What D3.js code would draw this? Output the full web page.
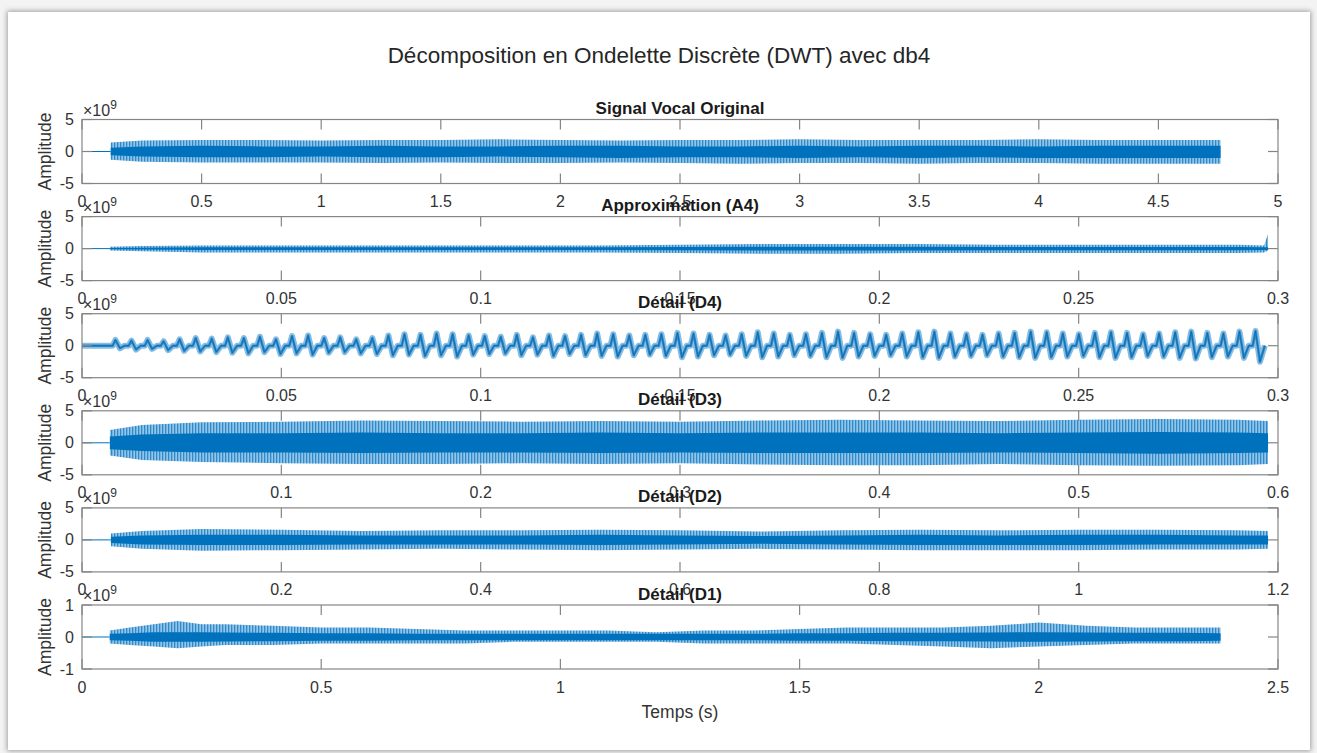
<!DOCTYPE html>
<html>
<head>
<meta charset="utf-8">
<title>DWT db4</title>
<script src="https://cdnjs.cloudflare.com/ajax/libs/d3/7.8.5/d3.min.js"></script>
<style>
body { margin: 0; background: #f3f3f3; overflow: hidden; }
#card { position: absolute; left: 8px; top: 12px; width: 1302px; height: 738px; background: #fff;
        box-shadow: 0 0 5px 1px rgba(0,0,0,0.35); }
#chart { position: absolute; left: 0; top: 0; }
text { font-family: "Liberation Sans", Arial, sans-serif; fill: #333; }
</style>
</head>
<body>
<div id="card"></div>
<div id="chart"></div>
<script>
// ---- data (amplitudes in units of 1e9) ----
var s1Time    = [0.12, 0.25, 0.5, 0.75, 1.0, 1.25, 1.5, 1.75, 2.0, 2.25, 2.5, 2.75, 3.0, 3.25, 3.5, 3.75, 4.0, 4.25, 4.5, 4.76];
var s1OuterHi = [1.4, 1.7, 1.8, 1.8, 1.7, 1.8, 1.8, 1.9, 1.8, 1.7, 1.8, 1.8, 1.9, 1.8, 1.8, 1.8, 1.9, 1.8, 1.8, 1.8];
var s1OuterLo = [-1.3, -1.6, -1.7, -1.7, -1.7, -1.8, -1.7, -1.8, -1.8, -1.7, -1.8, -1.9, -1.8, -1.8, -1.9, -1.8, -1.8, -1.9, -1.9, -1.9];
var s1CoreHi  = [0.6, 0.8, 0.9, 0.8, 0.8, 0.9, 0.8, 0.8, 0.9, 0.9, 0.8, 0.8, 0.9, 0.8, 0.9, 0.9, 0.8, 0.9, 0.9, 0.9];
var s1CoreLo  = [-0.6, -0.8, -0.9, -0.9, -0.8, -0.9, -0.9, -0.8, -0.9, -1.0, -0.9, -0.9, -1.0, -0.9, -1.0, -0.9, -1.0, -1.0, -1.0, -1.0];

var a4Time    = [0.007, 0.015, 0.03, 0.05, 0.07, 0.09, 0.11, 0.13, 0.15, 0.17, 0.19, 0.21, 0.23, 0.25, 0.27, 0.29, 0.2965, 0.2975];
var a4OuterHi = [0.3, 0.4, 0.5, 0.5, 0.5, 0.5, 0.5, 0.5, 0.6, 0.7, 0.7, 0.7, 0.6, 0.6, 0.6, 0.6, 0.5, 2.3];
var a4OuterLo = [-0.3, -0.4, -0.6, -0.6, -0.6, -0.6, -0.6, -0.6, -0.7, -0.8, -0.8, -0.7, -0.7, -0.7, -0.7, -0.7, -0.6, -0.3];
var a4CoreHi  = [0.1, 0.15, 0.2, 0.2, 0.2, 0.2, 0.2, 0.2, 0.25, 0.3, 0.3, 0.3, 0.25, 0.25, 0.25, 0.25, 0.2, 0.2];
var a4CoreLo  = [-0.1, -0.15, -0.2, -0.2, -0.2, -0.2, -0.2, -0.2, -0.25, -0.3, -0.3, -0.3, -0.25, -0.25, -0.25, -0.25, -0.2, -0.2];

// D4: one peak and one trough per glottal pulse, 0.0075 s -> 0.2975 s
var d4Span   = [0.0075, 0.2975];
var d4Peak   = [0.9, 0.8, 0.9, 0.7, 1.0, 1.2, 1.1, 1.3, 1.2, 1.4, 1.0, 1.5, 1.6, 1.2, 1.3, 1.0, 1.2, 1.6, 1.8, 1.7,
                1.9, 1.8, 1.6, 1.5, 1.4, 1.7, 1.3, 1.6, 1.5, 1.7, 1.9, 1.8, 1.6, 1.7, 1.8, 2.0, 1.9, 1.7, 1.6, 1.8,
                2.1, 1.9, 1.7, 1.8, 2.0, 2.2, 2.0, 1.8, 1.7, 1.9, 2.1, 2.2, 1.9, 1.8, 1.7, 1.9, 2.0, 2.2, 2.1, 1.9,
                1.8, 2.0, 2.1, 2.0, 1.8, 1.9, 2.1, 2.2, 2.0, 1.9, 2.2, 2.3];
var d4Trough = [-0.4, -0.6, -0.5, -0.7, -0.8, -0.9, -1.0, -1.1, -1.2, -1.0, -1.3, -1.2, -1.4, -1.1, -1.0, -1.2, -1.3, -1.5, -1.4, -1.6,
                -1.5, -1.7, -1.4, -1.3, -1.2, -1.5, -1.4, -1.6, -1.3, -1.5, -1.6, -1.7, -1.5, -1.4, -1.6, -1.8, -1.7, -1.5, -1.4, -1.6,
                -1.8, -1.7, -1.5, -1.6, -1.8, -1.9, -1.7, -1.6, -1.5, -1.7, -1.8, -1.9, -1.7, -1.6, -1.5, -1.7, -1.8, -1.9, -1.8, -1.7,
                -1.6, -1.8, -1.9, -1.8, -1.6, -1.7, -1.9, -2.0, -1.8, -1.7, -1.9, -2.5];

var d3Time    = [0.014, 0.03, 0.06, 0.1, 0.14, 0.18, 0.22, 0.26, 0.3, 0.34, 0.38, 0.42, 0.46, 0.5, 0.54, 0.58, 0.595];
var d3OuterHi = [2.0, 2.8, 3.2, 3.3, 3.5, 3.4, 3.3, 3.4, 3.3, 3.5, 3.6, 3.5, 3.4, 3.6, 3.7, 3.6, 3.4];
var d3OuterLo = [-2.0, -2.7, -3.0, -3.2, -3.3, -3.3, -3.2, -3.3, -3.2, -3.4, -3.5, -3.5, -3.3, -3.5, -3.6, -3.5, -3.3];
var d3CoreHi  = [1.0, 1.3, 1.5, 1.5, 1.6, 1.5, 1.5, 1.6, 1.5, 1.6, 1.6, 1.6, 1.5, 1.6, 1.7, 1.6, 1.5];
var d3CoreLo  = [-1.0, -1.3, -1.5, -1.5, -1.6, -1.5, -1.5, -1.6, -1.5, -1.6, -1.6, -1.6, -1.5, -1.6, -1.7, -1.6, -1.5];

var d2Time    = [0.029, 0.06, 0.12, 0.2, 0.28, 0.36, 0.44, 0.52, 0.6, 0.68, 0.76, 0.84, 0.92, 1.0, 1.08, 1.16, 1.19];
var d2OuterHi = [1.0, 1.4, 1.7, 1.6, 1.4, 1.5, 1.5, 1.6, 1.5, 1.3, 1.5, 1.6, 1.5, 1.6, 1.6, 1.5, 1.4];
var d2OuterLo = [-1.0, -1.4, -1.7, -1.6, -1.5, -1.4, -1.5, -1.6, -1.5, -1.4, -1.5, -1.6, -1.6, -1.6, -1.5, -1.5, -1.4];
var d2CoreHi  = [0.5, 0.7, 0.8, 0.8, 0.7, 0.7, 0.7, 0.8, 0.7, 0.6, 0.7, 0.8, 0.7, 0.8, 0.8, 0.7, 0.7];
var d2CoreLo  = [-0.5, -0.7, -0.8, -0.8, -0.7, -0.7, -0.7, -0.8, -0.7, -0.6, -0.7, -0.8, -0.8, -0.8, -0.7, -0.7, -0.7];

var d1Time    = [0.058, 0.1, 0.15, 0.2, 0.25, 0.3, 0.4, 0.5, 0.6, 0.7, 0.8, 0.9, 1.0, 1.1, 1.2, 1.3, 1.4, 1.5, 1.6, 1.7, 1.8, 1.9, 2.0, 2.1, 2.2, 2.3, 2.38];
var d1OuterHi = [0.2, 0.3, 0.4, 0.5, 0.4, 0.4, 0.35, 0.3, 0.3, 0.25, 0.2, 0.2, 0.2, 0.2, 0.15, 0.2, 0.2, 0.25, 0.3, 0.3, 0.3, 0.35, 0.45, 0.35, 0.3, 0.3, 0.3];
var d1OuterLo = [-0.2, -0.25, -0.3, -0.35, -0.3, -0.25, -0.25, -0.2, -0.2, -0.2, -0.2, -0.15, -0.15, -0.15, -0.15, -0.2, -0.2, -0.2, -0.2, -0.25, -0.3, -0.35, -0.3, -0.25, -0.2, -0.2, -0.2];
var d1CoreHi  = [0.1, 0.12, 0.15, 0.15, 0.15, 0.14, 0.13, 0.12, 0.12, 0.1, 0.1, 0.1, 0.1, 0.1, 0.1, 0.1, 0.1, 0.12, 0.12, 0.13, 0.13, 0.14, 0.15, 0.14, 0.13, 0.13, 0.12];
var d1CoreLo  = [-0.1, -0.12, -0.15, -0.15, -0.15, -0.14, -0.13, -0.12, -0.12, -0.1, -0.1, -0.1, -0.1, -0.1, -0.1, -0.1, -0.1, -0.12, -0.12, -0.13, -0.13, -0.14, -0.15, -0.14, -0.13, -0.13, -0.12];

var xTicks5   = [0, 0.5, 1, 1.5, 2, 2.5, 3, 3.5, 4, 4.5, 5];
var xTicks03  = [0, 0.05, 0.1, 0.15, 0.2, 0.25, 0.3];
var xTicks06  = [0, 0.1, 0.2, 0.3, 0.4, 0.5, 0.6];
var xTicks12  = [0, 0.2, 0.4, 0.6, 0.8, 1, 1.2];
var xTicks25  = [0, 0.5, 1, 1.5, 2, 2.5];
var yTicks5   = [-5, 0, 5];
var yTicks1   = [-1, 0, 1];

var titles = ['Signal Vocal Original', 'Approximation (A4)', 'Détail (D4)', 'Détail (D3)', 'Détail (D2)', 'Détail (D1)'];

// ---- layout ----
var W = 1317, H = 753;
var left = 82, right = 1278, top0 = 119.5, step = 97.1, axH = 64;
var blue = '#0072BD';

var svg = d3.select('#chart').append('svg').attr('width', W).attr('height', H);

var defs = svg.append('defs');
var pat = defs.append('pattern').attr('id', 'hatch')
  .attr('width', 3).attr('height', 10).attr('patternUnits', 'userSpaceOnUse');
pat.append('rect').attr('width', 3).attr('height', 10).attr('fill', '#93c5e8');
pat.append('rect').attr('width', 1.3).attr('height', 10).attr('fill', '#2f8acb');

var panels = [
  {xMax: 5,   xTicks: xTicks5,  yMax: 5, yTicks: yTicks5, t: s1Time, hi: s1OuterHi, lo: s1OuterLo, chi: s1CoreHi, clo: s1CoreLo},
  {xMax: 0.3, xTicks: xTicks03, yMax: 5, yTicks: yTicks5, t: a4Time, hi: a4OuterHi, lo: a4OuterLo, chi: a4CoreHi, clo: a4CoreLo},
  {xMax: 0.3, xTicks: xTicks03, yMax: 5, yTicks: yTicks5, pulses: true},
  {xMax: 0.6, xTicks: xTicks06, yMax: 5, yTicks: yTicks5, t: d3Time, hi: d3OuterHi, lo: d3OuterLo, chi: d3CoreHi, clo: d3CoreLo},
  {xMax: 1.2, xTicks: xTicks12, yMax: 5, yTicks: yTicks5, t: d2Time, hi: d2OuterHi, lo: d2OuterLo, chi: d2CoreHi, clo: d2CoreLo},
  {xMax: 2.5, xTicks: xTicks25, yMax: 1, yTicks: yTicks1, t: d1Time, hi: d1OuterHi, lo: d1OuterLo, chi: d1CoreHi, clo: d1CoreLo}
];

// main title
svg.append('text')
   .attr('x', 659).attr('y', 63)
   .attr('text-anchor', 'middle')
   .attr('font-size', '22.5px')
   .style('fill', '#262626')
   .text('Décomposition en Ondelette Discrète (DWT) avec db4');

panels.forEach(function (p, k) {
    var top = top0 + k * step, bottom = top + axH;
    var x = d3.scaleLinear().domain([0, p.xMax]).range([left, right]);
    var y = d3.scaleLinear().domain([-p.yMax, p.yMax]).range([bottom, top]);
    var g = svg.append('g');

    if (p.pulses) {
        // each pulse: back at zero, sharp spike up, drop to the trough
        var n = d4Peak.length;
        var idx = d3.scaleLinear().domain([0, n]).range(d4Span);
        var pts = [[0, 0], [d4Span[0], 0]];
        for (var i = 0; i < n; i++) {
            pts.push([idx(i + 0.05), 0]);
            pts.push([idx(i + 0.22), d4Peak[i]]);
            pts.push([idx(i + 0.5), d4Trough[i]]);
            pts.push([idx(i + 0.8), 0]);
        }
        var ln = d3.line().x(function (d) { return x(d[0]); }).y(function (d) { return y(d[1]); });
        g.append('path').attr('d', ln(pts)).attr('fill', 'none')
         .attr('stroke', '#86bde3').attr('stroke-width', 6).attr('stroke-linejoin', 'round');
        g.append('path').attr('d', ln(pts)).attr('fill', 'none')
         .attr('stroke', '#2f8acb').attr('stroke-width', 2.5).attr('stroke-linejoin', 'round');
        g.append('path').attr('d', ln(pts)).attr('fill', 'none')
         .attr('stroke', '#0b67a8').attr('stroke-width', 0.8).attr('stroke-linejoin', 'round');
    } else {
        // flat part before the voice starts
        g.append('line')
         .attr('x1', x(0)).attr('x2', x(p.t[0]))
         .attr('y1', y(0)).attr('y2', y(0))
         .attr('stroke', blue).attr('stroke-width', 1);
        var outer = d3.area()
            .x(function (d, i) { return x(p.t[i]); })
            .y0(function (d, i) { return y(p.lo[i]); })
            .y1(function (d, i) { return y(p.hi[i]); });
        var core = d3.area()
            .x(function (d, i) { return x(p.t[i]); })
            .y0(function (d, i) { return y(p.clo[i]); })
            .y1(function (d, i) { return y(p.chi[i]); });
        g.append('path').attr('d', outer(p.t)).attr('fill', 'url(#hatch)');
        g.append('path').attr('d', core(p.t)).attr('fill', blue);
    }

    // box
    g.append('rect')
     .attr('x', left).attr('y', top).attr('width', right - left).attr('height', axH)
     .attr('fill', 'none').attr('stroke', '#858585').attr('stroke-width', 1.2);

    // x ticks, inside top and bottom
    p.xTicks.forEach(function (v) {
        g.append('line').attr('x1', x(v)).attr('x2', x(v)).attr('y1', bottom).attr('y2', bottom - 10)
         .attr('stroke', '#858585').attr('stroke-width', 1.2);
        g.append('line').attr('x1', x(v)).attr('x2', x(v)).attr('y1', top).attr('y2', top + 10)
         .attr('stroke', '#858585').attr('stroke-width', 1.2);
        g.append('text').attr('x', x(v)).attr('y', bottom + 23.5)
         .attr('text-anchor', 'middle').attr('font-size', '16px')
         .text(String(v));
    });

    // y ticks, inside left and right
    p.yTicks.forEach(function (v) {
        g.append('line').attr('x1', left).attr('x2', left + 10).attr('y1', y(v)).attr('y2', y(v))
         .attr('stroke', '#858585').attr('stroke-width', 1.2);
        g.append('line').attr('x1', right).attr('x2', right - 10).attr('y1', y(v)).attr('y2', y(v))
         .attr('stroke', '#858585').attr('stroke-width', 1.2);
        g.append('text').attr('x', left - 8).attr('y', y(v) + 5.5)
         .attr('text-anchor', 'end').attr('font-size', '16px')
         .text(v < 0 ? '-' + Math.abs(v) : String(v));
    });

    // x10^9 exponent
    var ex = g.append('text').attr('x', left + 1).attr('y', top - 4).attr('font-size', '16px');
    ex.append('tspan').text('×10');
    ex.append('tspan').attr('font-size', '12px').attr('dy', -7).text('9');

    // subplot title
    g.append('text').attr('x', (left + right) / 2).attr('y', top - 5.5)
     .attr('text-anchor', 'middle').attr('font-size', '17px').attr('font-weight', 'bold')
     .style('fill', '#1a1a1a')
     .text(titles[k]);

    // y label
    g.append('text')
     .attr('transform', 'translate(51,' + ((top + bottom) / 2) + ') rotate(-90)')
     .attr('text-anchor', 'middle').attr('font-size', '17.5px')
     .text('Amplitude');
});

svg.append('text')
   .attr('x', (left + right) / 2).attr('y', 718)
   .attr('text-anchor', 'middle').attr('font-size', '17.5px')
   .text('Temps (s)');
</script>
</body>
</html>
